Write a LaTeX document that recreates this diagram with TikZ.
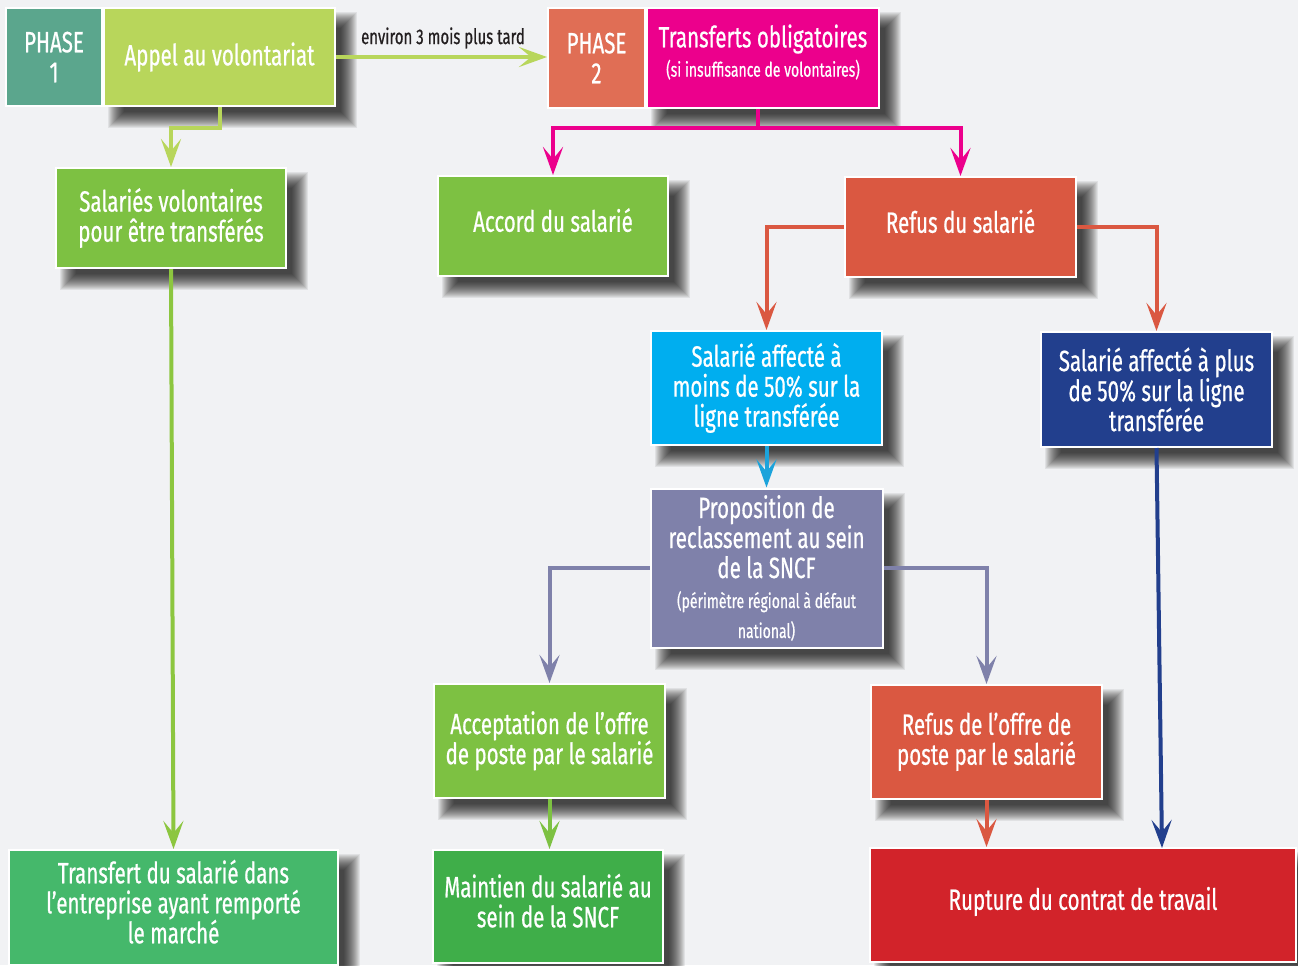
\documentclass[tikz,border=0pt]{standalone}
\usepackage{fontspec}
\setmainfont{Fira Sans}[FakeStretch=0.7,FakeBold=0.6]
\usetikzlibrary{arrows.meta}
\definecolor{bgc}{HTML}{F1F2F4}
\definecolor{tealc}{HTML}{5BA68D}
\definecolor{limec}{HTML}{B8D65B}
\definecolor{orngc}{HTML}{E06E55}
\definecolor{magc}{HTML}{EC008C}
\definecolor{grnc}{HTML}{7DC142}
\definecolor{rdoc}{HTML}{DA5841}
\definecolor{cyanc}{HTML}{00AEEF}
\definecolor{cyana}{HTML}{1BA3DB}
\definecolor{navyc}{HTML}{223F8D}
\definecolor{purpc}{HTML}{7F81AA}
\definecolor{dgrnc}{HTML}{3FAE49}
\definecolor{redc}{HTML}{D2232A}
\definecolor{tgrnc}{HTML}{45B86B}
\definecolor{grna}{HTML}{8CC63F}
\definecolor{darkc}{HTML}{231F20}
\pgfdeclarelayer{bgfill}
\pgfdeclarelayer{background}
\pgfsetlayers{bgfill,background,main}
\begin{document}
\begin{tikzpicture}[x=0.75pt,y=-0.75pt,
  box/.style={draw=white, line width=1.5pt, inner sep=2pt, text=white, align=center,
    font=\fontsize{22}{22.5}\selectfont},
  raise/.style={text depth=#1},
  shadowpiece/.style={fill=black, opacity=0.065},
  arr/.style={line width=3pt, -{Stealth[length=21pt,width=15pt,inset=9pt]}},
  ln/.style={line width=3pt}]
\useasboundingbox (0,0) rectangle (1298,965);
\begin{pgfonlayer}{bgfill}
\fill[bgc] (0,0) rectangle (1298,965);
\end{pgfonlayer}

\node[box, fill=tealc, minimum width=72pt, minimum height=73.5pt] (ph1) at (54,57) {PHASE\\1};
\node[box, fill=limec, minimum width=173.25pt, minimum height=73.5pt] (appel) at (219.5,57) {Appel au volontariat};
\node[box, fill=orngc, minimum width=72.75pt, minimum height=75pt] (ph2) at (596.5,58) {PHASE\\2};
\node[box, fill=magc, minimum width=174pt, minimum height=75pt, text width=170pt, align=flush center] (trans) at (763,58)
  {{\fontsize{22}{24}\selectfont Transferts obligatoires\par}{\fontsize{15}{22}\selectfont (si insuffisance de volontaires)\par}\vspace{9pt}};
\node[font=\fontsize{16}{18}\selectfont, text=darkc] (lbl) at (443,38) {environ 3 mois plus tard};

\node[box, fill=grnc, minimum width=172.5pt, minimum height=75pt] (salv) at (171,218) {Salariés volontaires\\pour être transférés};
\node[box, raise=9pt, fill=grnc, minimum width=172.5pt, minimum height=75pt] (accord) at (553,226) {Accord du salarié};
\node[box, raise=9pt, fill=rdoc, minimum width=173.25pt, minimum height=75pt] (refus) at (960.5,227) {Refus du salarié};
\node[box, fill=cyanc, minimum width=173.25pt, minimum height=85.5pt] (moins) at (766.5,388) {Salarié affecté à\\moins de 50\% sur la\\ligne transférée};
\node[box, fill=navyc, minimum width=173.25pt, minimum height=86.25pt] (plus) at (1156.5,389.5) {Salarié affecté à plus\\de 50\% sur la ligne\\transférée};
\node[box, fill=purpc, minimum width=173.25pt, minimum height=119.25pt, text width=170pt, align=flush center] (prop) at (766.5,568)
  {{\fontsize{22}{22.5}\selectfont Proposition de\\reclassement au sein\\de la SNCF\par}{\fontsize{15}{22.5}\selectfont (périmètre régional à défaut\\national)\par}};
\node[box, raise=5pt, fill=grnc, minimum width=173.25pt, minimum height=85.5pt] (accept) at (549.5,741) {Acceptation de l’offre\\de poste par le salarié};
\node[box, raise=5pt, fill=rdoc, minimum width=173.25pt, minimum height=85.5pt] (refoff) at (986.5,742) {Refus de l’offre de\\poste par le salarié};
\node[box, raise=9pt, fill=dgrnc, minimum width=172.5pt, minimum height=84.75pt] (maint) at (548,906.5) {Maintien du salarié au\\sein de la SNCF};
\node[box, raise=10pt, fill=redc, minimum width=319.5pt, minimum height=85.5pt] (rupt) at (1083,905) {Rupture du contrat de travail};
\node[box, raise=9pt, fill=tgrnc, minimum width=246.75pt, minimum height=86.25pt] (transf) at (173.5,907.5) {Transfert du salarié dans\\l’entreprise ayant remporté\\le marché};

\begin{pgfonlayer}{background}
\foreach \n in {appel,trans,salv,accord,refus,moins,plus,prop,accept,refoff,maint,rupt,transf}
  \foreach \e in {-8,-7,...,8}
    \fill[shadowpiece] ([shift={(13+\e,13+\e)}]\n.north west) rectangle ([shift={(13-\e,13-\e)}]\n.south east);
\end{pgfonlayer}

\draw[arr, limec] (appel.east) -- (appel.east -| ph2.west);
\draw[arr, limec] (appel.south) -- ++(0,21) -| (salv.north);
\draw[ln, magc] ([xshift=-3.75pt]trans.south) -- ++(0,19) coordinate (tj);
\draw[arr, magc] (tj) -| (accord.north);
\draw[arr, magc] (tj) -| (refus.north);
\draw[arr, rdoc] (refus.west) -| (moins.north);
\draw[arr, rdoc] (refus.east) -| (plus.north);
\draw[arr, cyana] (moins.south) -- (prop.north);
\draw[arr, purpc] (prop.west) -| (accept.north);
\draw[arr, purpc] (prop.east) -| (refoff.north);
\draw[arr, grnc] (accept.south) -- (accept.south |- maint.north);
\draw[arr, rdoc] (refoff.south) -- (refoff.south |- rupt.north);
\coordinate (pe) at (1162,848);
\draw[arr, navyc] (plus.south) -- (pe);
\draw[arr, grna] (salv.south) -- (transf.north);
\end{tikzpicture}
\end{document}
